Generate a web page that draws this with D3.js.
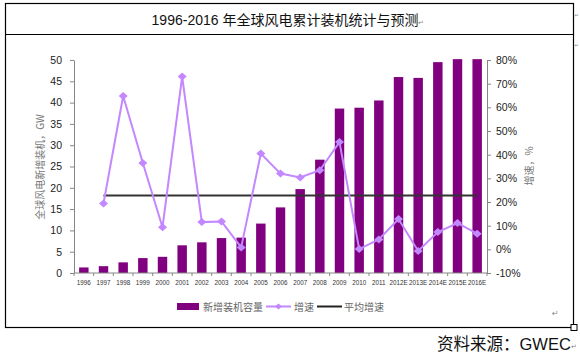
<!DOCTYPE html>
<html><head><meta charset="utf-8">
<script src="https://cdn.jsdelivr.net/npm/d3@7"></script>
<style>body{margin:0;background:#fff}svg{display:block}</style>
</head><body>
<script>
const years = ["1996","1997","1998","1999","2000","2001","2002","2003","2004","2005","2006","2007","2008","2009","2010","2011","2012E","2013E","2014E","2015E","2016E"];
const newCapacity = [1.3,1.6,2.5,3.5,3.8,6.5,7.2,8.2,8.3,11.6,15.4,19.7,26.6,38.6,38.8,40.5,46.0,45.8,49.5,50.2,50.2];
const growth = [null,19.4,64.8,36.5,9.3,73.0,11.5,11.8,0.8,40.5,32.0,30.4,33.4,45.3,0.1,4.2,12.8,-0.7,7.3,11.1,6.6];
const avgGrowth = 22.7;
const leftTicks = [0,5,10,15,20,25,30,35,40,45,50];
const rightTicks = [-10,0,10,20,30,40,50,60,70,80];
const title = "1996-2016 年全球风电累计装机统计与预测";
const leftLabel = "全球风电新增装机，GW";
const rightLabel = "增速，%";
const legendNames = ["新增装机容量","增速","平均增速"];
const source = "资料来源：GWEC";

const W=580,H=356;
const svg=d3.select("body").append("svg").attr("width",W).attr("height",H);
svg.append("rect").attr("width",W).attr("height",H).attr("fill","#fff");

// frame
svg.append("rect").attr("x",5.5).attr("y",3.5).attr("width",568).attr("height",324)
  .attr("fill","none").attr("stroke","#000").attr("stroke-width",1.2);
svg.append("line").attr("x1",5.5).attr("x2",573.5).attr("y1",34.5).attr("y2",34.5)
  .attr("stroke","#000").attr("stroke-width",1.2);
svg.append("rect").attr("x",571).attr("y",324.5).attr("width",6).attr("height",6)
  .attr("fill","#fff").attr("stroke","#000").attr("stroke-width",1);
svg.append("text").attr("x",285).attr("y",25).attr("text-anchor","middle")
  .attr("font-family","Liberation Sans, Noto Sans CJK SC").attr("font-size",14).attr("fill","#111").text(title);
const pm=(x,y,s)=>svg.append("text").attr("x",x).attr("y",y).attr("font-family","DejaVu Sans")
  .attr("font-size",s).attr("fill","#888").text("↵");
pm(418,25,7);pm(574.5,17,5);pm(574.5,47,5);pm(552,316,8);pm(571,349,7);

// scales
const x=d3.scaleBand().domain(years).range([74,487]).paddingInner(0.52).paddingOuter(0.26);
const yL=d3.scaleLinear().domain([0,50]).range([273,60]);
const yR=d3.scaleLinear().domain([-10,80]).range([273,60]);
const cx=d=>x(d)+x.bandwidth()/2;

// bars
svg.append("g").selectAll("rect").data(years).join("rect")
  .attr("x",d=>x(d)).attr("width",x.bandwidth())
  .attr("y",(d,i)=>yL(newCapacity[i])).attr("height",(d,i)=>yL(0)-yL(newCapacity[i]))
  .attr("fill","#800080");

// axes
const axisStyle=g=>{g.selectAll("path,line").attr("stroke","#868686");
  g.selectAll("text").attr("fill","#222").attr("font-family","Liberation Sans, Arial");};
svg.append("g").attr("transform","translate(74,0)")
  .call(d3.axisLeft(yL).tickValues(leftTicks).tickSize(4).tickSizeOuter(0).tickPadding(8))
  .call(axisStyle).call(g=>g.selectAll("text").attr("font-size",10.5));
svg.append("g").attr("transform","translate(487,0)")
  .call(d3.axisRight(yR).tickValues(rightTicks).tickSize(4).tickSizeOuter(0).tickPadding(5).tickFormat(d=>d+"%"))
  .call(axisStyle).call(g=>g.selectAll("text").attr("font-size",10.5));
const xa=svg.append("g").attr("transform","translate(0,273)");
xa.append("line").attr("x1",74).attr("x2",487).attr("stroke","#868686");
xa.selectAll("line.t").data(d3.range(years.length+1)).join("line").attr("class","t")
  .attr("x1",i=>74+x.step()*i).attr("x2",i=>74+x.step()*i).attr("y1",0).attr("y2",3).attr("stroke","#868686");
xa.selectAll("text").data(years).join("text")
  .attr("x",d=>cx(d)).attr("y",11.5).attr("text-anchor","middle")
  .attr("font-family","Liberation Sans, Arial").attr("font-size",6.3).attr("fill","#333").text(d=>d);

// axis titles
svg.append("text").attr("transform","translate(44,167) rotate(-90)").attr("text-anchor","middle")
  .attr("font-family","Noto Sans CJK SC").attr("font-size",10).attr("fill","#777").text(leftLabel);
svg.append("text").attr("transform","translate(533,166) rotate(-90)").attr("text-anchor","middle")
  .attr("font-family","Noto Sans CJK SC").attr("font-size",10).attr("fill","#777").text(rightLabel);

// average line
svg.append("line").attr("x1",cx(years[1])).attr("x2",cx(years[years.length-1]))
  .attr("y1",yR(avgGrowth)).attr("y2",yR(avgGrowth)).attr("stroke","#333").attr("stroke-width",2);

// growth line
const gData=years.map((d,i)=>({d,v:growth[i]})).filter(p=>p.v!==null);
const lc="#C387FF";
svg.append("path").datum(gData)
  .attr("d",d3.line().x(p=>cx(p.d)).y(p=>yR(p.v)))
  .attr("fill","none").attr("stroke",lc).attr("stroke-width",2);
const dia="M0,-4L4.5,0L0,4L-4.5,0Z";
svg.append("g").selectAll("path").data(gData).join("path")
  .attr("transform",p=>`translate(${cx(p.d)},${yR(p.v)})`).attr("d",dia).attr("fill",lc);

// legend
const lg=svg.append("g").attr("font-family","Noto Sans CJK SC").attr("font-size",10).attr("fill","#666");
lg.append("rect").attr("x",177).attr("y",303).attr("width",22).attr("height",7).attr("fill","#800080");
lg.append("text").attr("x",203).attr("y",310.5).text(legendNames[0]);
lg.append("line").attr("x1",266).attr("x2",291).attr("y1",306.5).attr("y2",306.5).attr("stroke",lc).attr("stroke-width",2);
lg.append("path").attr("transform","translate(278.5,306.5)").attr("d","M0,-3L3.5,0L0,3L-3.5,0Z").attr("fill",lc);
lg.append("text").attr("x",294).attr("y",310.5).text(legendNames[1]);
lg.append("line").attr("x1",317).attr("x2",342).attr("y1",306.5).attr("y2",306.5).attr("stroke","#222").attr("stroke-width",2);
lg.append("text").attr("x",344).attr("y",310.5).text(legendNames[2]);

// source
svg.append("text").attr("x",437).attr("y",350).attr("font-family","Liberation Sans, Noto Sans CJK SC")
  .attr("font-size",16.5).attr("fill","#111").text(source);
</script>
</body></html>
